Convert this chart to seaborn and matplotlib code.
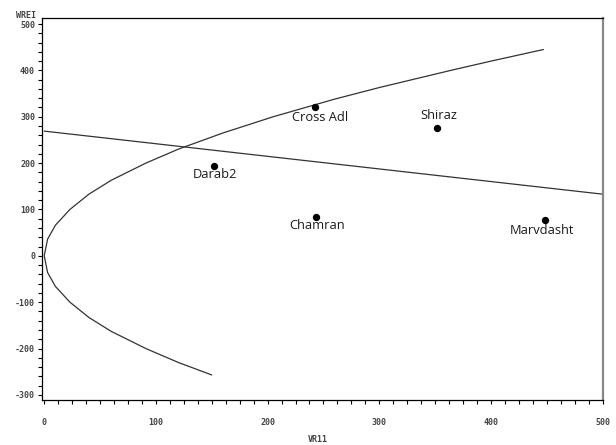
import pandas as pd
import matplotlib
matplotlib.use("Agg")
import matplotlib.pyplot as plt
import seaborn as sns
from matplotlib.ticker import MultipleLocator

sns.set_style("white")
plt.rcParams['font.family'] = ['DejaVu Sans']
plt.rcParams['axes.unicode_minus'] = False

# === data ===
names = ["Cross Adl", "Shiraz", "Darab2", "Chamran", "Marvdasht"]
vr = [242, 352, 152, 243, 448]
wr = [322, 275, 194, 84, 78]

curve_x = [150, 120, 91, 60, 40, 23, 10, 3, 0, 3, 10, 23, 40, 60, 91, 120, 160, 205, 260, 300, 364, 400, 447]
curve_y = [-257, -230, -200, -163, -133, -100, -66, -36, 0, 36, 66, 100, 133, 163, 200, 230, 265, 300, 338, 363, 400, 420, 445]

# regression line end points
line_x = [0, 500]
line_y = [269, 133]

# label offsets in points (dx, dy)
label_off = {"Cross Adl": (4, -8), "Shiraz": (1, 9), "Darab2": (1, -6),
             "Chamran": (1, -6), "Marvdasht": (-2, -8)}

df_pts = pd.DataFrame({"name": names, "VR11": vr, "WREI": wr})
df_curve = pd.DataFrame({"x": curve_x, "y": curve_y})
df_line = pd.DataFrame({"x": line_x, "y": line_y})

fig = plt.figure(figsize=(6.16, 4.45), dpi=100)
ax = fig.add_axes([42 / 616, 45 / 445, 561 / 616, 382 / 445])

sns.lineplot(data=df_curve, x="x", y="y", sort=False, estimator=None, ax=ax,
             color="#333333", lw=0.9)
sns.lineplot(data=df_line, x="x", y="y", sort=False, estimator=None, ax=ax,
             color="#333333", lw=0.9)
sns.scatterplot(data=df_pts, x="VR11", y="WREI", ax=ax, color="black", s=28,
                edgecolor="black", linewidth=0, zorder=5)

for n, x, y in zip(names, vr, wr):
    dx, dy = label_off[n]
    ax.annotate(n, (x, y), xytext=(dx, dy), textcoords="offset points",
                ha="center", va="center", fontsize=9.3, family="Open Sans",
                color="#1a1a1a")

ax.set_xlim(-2, 500.3)
ax.set_ylim(-311, 513)
ax.xaxis.set_major_locator(MultipleLocator(100))
ax.xaxis.set_minor_locator(MultipleLocator(12.5))
ax.yaxis.set_major_locator(MultipleLocator(100))
ax.yaxis.set_minor_locator(MultipleLocator(20))
ax.set_xlabel("")
ax.set_ylabel("")

tick_font = dict(family="DejaVu Sans Mono", size=6, weight="bold")
ax.tick_params(axis="y", which="both", left=True, direction="out", length=3,
               width=0.8, pad=2, colors="black")
ax.tick_params(axis="x", which="both", bottom=True, direction="out", length=3,
               width=0.8, pad=10, colors="black")
for lab in ax.get_xticklabels() + ax.get_yticklabels():
    lab.set_fontproperties(tick_font)
    lab.set_color("#444444")

for side in ["left", "top", "bottom"]:
    ax.spines[side].set_color("black")
    ax.spines[side].set_linewidth(0.9)
ax.spines["right"].set_color("#888888")
ax.spines["right"].set_linewidth(1.6)

fig.text(26 / 616, 1 - 15 / 445, "WREI", ha="center", va="center",
         fontsize=6, family="DejaVu Sans Mono", weight="bold", color="#444444")
fig.text(318 / 616, 1 - 440 / 445, "VR11", ha="center", va="center",
         fontsize=6, family="DejaVu Sans Mono", weight="bold", color="#444444")

fig.savefig("out.png", dpi=100, facecolor="white")
